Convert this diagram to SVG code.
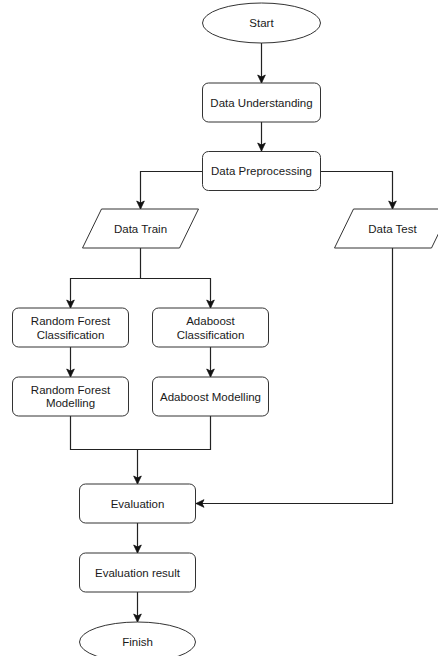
<svg xmlns="http://www.w3.org/2000/svg" width="438" height="656" viewBox="0 0 438 656">
<style>
.shape{fill:#ffffff;stroke:#333333;stroke-width:1}
.edge{fill:none;stroke:#222222;stroke-width:1.2}
text{font-family:"Liberation Sans",Arial,sans-serif;font-size:11.5px;fill:#1a1a1a;text-anchor:middle;dominant-baseline:central}
</style>
<defs>
<marker id="arr" markerUnits="userSpaceOnUse" markerWidth="10" markerHeight="10" viewBox="0 0 10 10" refX="9" refY="5" orient="auto">
<path d="M1,1.2 L9,5 L1,8.8 L3,5 Z" fill="#111111" stroke="#111111" stroke-width="0.8" stroke-linejoin="miter"/>
</marker>
</defs>
<rect width="438" height="656" fill="#ffffff"/>
<g id="connectors">
<path class="edge" d="M261.5,43 V83" marker-end="url(#arr)"/>
<path class="edge" d="M261.5,122 V151" marker-end="url(#arr)"/>
<path class="edge" d="M202.5,171.5 H140.5 V209" marker-end="url(#arr)"/>
<path class="edge" d="M320.5,171.5 H392.5 V209" marker-end="url(#arr)"/>
<path class="edge" d="M140.5,248 V278.5 H70.5 V308" marker-end="url(#arr)"/>
<path class="edge" d="M140.5,278.5 H210.5 V308" marker-end="url(#arr)"/>
<path class="edge" d="M70.5,347 V377" marker-end="url(#arr)"/>
<path class="edge" d="M210.5,347 V377" marker-end="url(#arr)"/>
<path class="edge" d="M70.5,416 V449.5 H210.5 V416"/>
<path class="edge" d="M137.5,449.5 V484" marker-end="url(#arr)"/>
<path class="edge" d="M392.5,248 V503.5 H196" marker-end="url(#arr)"/>
<path class="edge" d="M137.5,523 V553" marker-end="url(#arr)"/>
<path class="edge" d="M137.5,592 V622" marker-end="url(#arr)"/>
</g>
<g id="start">
<ellipse class="shape" cx="261.5" cy="23" rx="59" ry="20"/>
<text x="261.5" y="23">Start</text>
</g>
<g id="data-understanding">
<rect class="shape" x="202.5" y="83" width="118" height="39" rx="6"/>
<text x="261.5" y="102.5">Data Understanding</text>
</g>
<g id="data-preprocessing">
<rect class="shape" x="202.5" y="151.5" width="118" height="39" rx="6"/>
<text x="261.5" y="171">Data Preprocessing</text>
</g>
<g id="data-train">
<polygon class="shape" points="101.5,209 198.5,209 179.5,248 82.5,248"/>
<text x="140.5" y="228.5">Data Train</text>
</g>
<g id="data-test">
<polygon class="shape" points="353.5,209 450.5,209 431.5,248 334.5,248"/>
<text x="392.5" y="228.5">Data Test</text>
</g>
<g id="rf-classification">
<rect class="shape" x="12.5" y="308" width="116" height="39" rx="6"/>
<text x="70.5" y="321">Random Forest</text>
<text x="70.5" y="334.5">Classification</text>
</g>
<g id="ada-classification">
<rect class="shape" x="152.5" y="308" width="116" height="39" rx="6"/>
<text x="210.5" y="321">Adaboost</text>
<text x="210.5" y="334.5">Classification</text>
</g>
<g id="rf-modelling">
<rect class="shape" x="12.5" y="377" width="116" height="39" rx="6"/>
<text x="70.5" y="389.5">Random Forest</text>
<text x="70.5" y="403">Modelling</text>
</g>
<g id="ada-modelling">
<rect class="shape" x="152.5" y="377" width="116" height="39" rx="6"/>
<text x="210.5" y="396.5">Adaboost Modelling</text>
</g>
<g id="evaluation">
<rect class="shape" x="79.5" y="484" width="116" height="39" rx="6"/>
<text x="137.5" y="503.5">Evaluation</text>
</g>
<g id="evaluation-result">
<rect class="shape" x="79.5" y="553" width="116" height="39" rx="6"/>
<text x="137.5" y="572.5">Evaluation result</text>
</g>
<g id="finish">
<ellipse class="shape" cx="137.5" cy="642" rx="58" ry="20"/>
<text x="137.5" y="642">Finish</text>
</g>
</svg>
